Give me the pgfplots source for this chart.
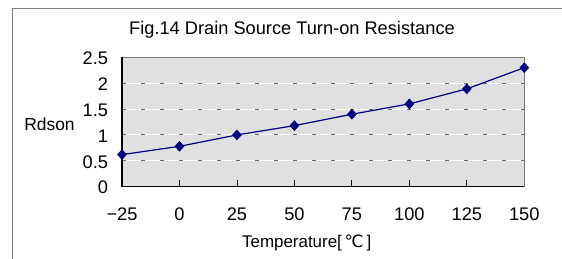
\documentclass[border=0pt]{standalone}
\usepackage{fontspec}
\setmainfont{Liberation Sans}
\newfontfamily\dv{DejaVu Sans}
\usepackage{pgfplots}
\pgfplotsset{compat=1.18}
\definecolor{navyline}{HTML}{000080}
\definecolor{plotbg}{HTML}{E0E0E0}
\definecolor{framegray}{HTML}{7A7A7A}
\definecolor{dashgray}{HTML}{666666}
\begin{document}
\begin{tikzpicture}
\path[use as bounding box] (0,0) rectangle (562bp,259bp);
\draw[line width=1bp, framegray] (12.5bp,0) -- (12.5bp,250bp) -- (562bp,250bp);
\begin{axis}[
  at={(122bp,72.3bp)}, anchor=south west,
  scale only axis, width=402.3bp, height=129.4bp,
  xmin=-25, xmax=150, ymin=0, ymax=2.5,
  xtick={-25,0,25,50,75,100,125,150},
  xticklabels={−25,0,25,50,75,100,125,150},
  ytick={0.5,1,1.5,2},
  yticklabels={0.5,1,1.5,2},
  extra y ticks={0,2.5},
  extra y tick labels={0,2.5},
  extra y tick style={ymajorgrids=false},
  ymajorgrids,
  major grid style={draw=white, line width=1bp, postaction={draw=dashgray, line width=1bp, dash pattern=on 4bp off 15bp}},
  axis background/.style={fill=plotbg},
  axis line style={draw=framegray, line width=1bp},
  xtick pos=bottom, xtick align=inside,
  major tick length=7bp,
  x tick style={black, line width=0.8bp},
  y tick style={draw=none},
  tick label style={font=\fontsize{18.3}{21}\selectfont},
  xticklabel style={yshift=-17.5bp},
  yticklabel style={xshift=-10.5bp, yshift=-1bp},
  clip=false,
]
\draw[black, line width=1.2bp] (rel axis cs:0,1) -- (rel axis cs:0,0) -- (rel axis cs:1,0);
\addplot[navyline, line width=1.2bp, mark=diamond*, mark size=4.5bp,
  mark options={xscale=1.2, fill=navyline, draw=navyline}]
  coordinates {(-25,0.62) (0,0.78) (25,1.0) (50,1.18) (75,1.4) (100,1.6) (125,1.89) (150,2.3)};
\end{axis}
\node[font=\fontsize{18.3}{22}\selectfont] at (292bp,229bp) {Fig.14 Drain Source Turn-on Resistance};
\node[font=\fontsize{17.5}{20}\selectfont] at (49.5bp,135bp) {Rdson};
\node[font=\fontsize{17}{20}\selectfont] at (306.7bp,16.3bp) {Temperature[\,{\dv ℃}\,]};
\end{tikzpicture}
\end{document}
